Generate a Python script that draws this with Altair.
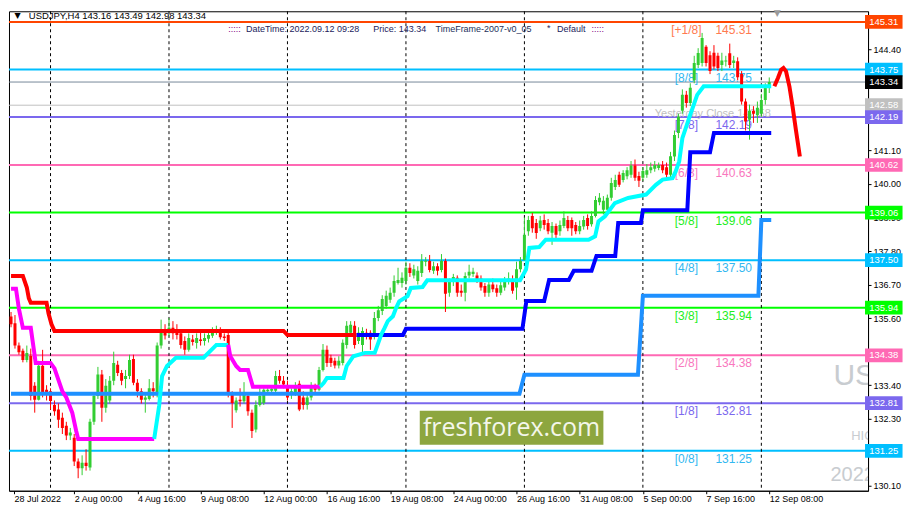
import altair as alt
import pandas as pd

# ---------------- candle data (H4 bars, index 0 = 28 Jul 2022 08:00) ----------------
BAR = list(range(193))
OPEN = [135.65, 135.43, 134.70, 134.53, 134.23, 134.36, 133.38, 132.92, 134.04, 133.25,
        133.20, 132.75, 132.60, 132.33, 132.07, 131.75, 131.68, 130.90, 130.68, 130.86,
        130.70, 132.20, 133.05, 133.75, 132.66, 132.90, 133.55, 134.07, 133.80, 133.60,
        133.70, 134.26, 133.48, 133.20, 132.92, 132.95, 133.30, 133.08, 134.70, 135.20,
        135.10, 135.28, 135.18, 135.10, 134.85, 134.56, 134.90, 134.78, 134.90, 134.85,
        134.92, 135.02, 135.15, 135.22, 135.00, 135.05, 133.15, 132.58, 132.92, 132.87,
        133.05, 132.50, 131.95, 132.75, 132.82, 133.20, 133.22, 133.22, 133.70, 133.55,
        133.40, 133.10, 133.15, 133.45, 133.00, 132.75, 133.00, 133.30, 133.25, 133.90,
        134.56, 134.30, 134.20, 134.05, 134.13, 134.72, 135.12, 135.35, 134.85, 134.72,
        135.12, 135.12, 135.05, 135.60, 135.83, 136.00, 136.20, 136.43, 136.75, 136.75,
        136.82, 137.25, 137.00, 136.82, 137.08, 137.45, 137.47, 137.15, 137.30, 137.18,
        137.47, 136.43, 136.80, 136.92, 136.50, 136.43, 137.00, 137.05, 137.00, 136.90,
        136.65, 136.43, 136.70, 136.58, 136.43, 136.60, 136.80, 136.88, 136.60, 137.20,
        137.50, 138.45, 138.95, 138.72, 138.55, 138.82, 138.72, 138.40, 138.62, 138.45,
        138.62, 138.82, 138.82, 138.65, 138.45, 138.60, 138.88, 138.68, 138.95, 139.40,
        139.15, 139.15, 139.55, 139.90, 140.30, 140.13, 140.25, 140.30, 140.60, 140.26,
        140.20, 140.30, 140.45, 140.50, 140.52, 140.62, 140.55, 140.30, 140.90, 141.67,
        142.40, 142.92, 142.65, 143.40, 143.90, 143.96, 144.50, 144.22, 144.30, 144.20,
        143.90, 144.02, 144.28, 143.96, 144.02, 143.60, 142.70, 142.10, 142.40, 142.25,
        142.30, 142.75, 143.16]
HIGH = [135.80, 135.70, 134.80, 134.60, 134.70, 134.60, 133.50, 134.20, 134.56, 133.40,
        133.30, 132.90, 132.80, 132.50, 132.20, 132.00, 131.80, 131.00, 131.10, 131.30,
        132.30, 133.10, 134.00, 133.90, 133.60, 133.70, 134.50, 134.20, 133.90, 133.90,
        134.40, 134.40, 133.60, 133.30, 133.10, 133.60, 133.50, 134.80, 135.55, 135.40,
        135.60, 135.50, 135.40, 135.20, 135.00, 135.10, 135.05, 135.10, 135.20, 135.10,
        135.15, 135.30, 135.35, 135.30, 135.10, 135.20, 133.20, 133.00, 133.30, 133.50,
        133.10, 132.60, 132.90, 133.30, 133.40, 133.40, 133.40, 133.87, 133.90, 133.70,
        133.55, 133.30, 133.50, 133.55, 133.20, 133.10, 133.50, 133.45, 134.00, 134.75,
        134.70, 134.40, 134.30, 134.35, 134.90, 135.50, 135.50, 135.50, 135.30, 135.30,
        135.25, 135.20, 135.80, 136.00, 136.35, 136.50, 136.60, 137.00, 137.25, 137.10,
        137.45, 137.40, 137.35, 137.30, 137.70, 137.60, 137.67, 137.45, 137.40, 137.70,
        137.55, 136.90, 137.05, 137.00, 136.70, 137.10, 137.35, 137.25, 137.10, 137.00,
        136.75, 136.80, 136.90, 136.70, 136.80, 136.95, 137.10, 137.00, 137.45, 137.60,
        138.90, 138.95, 139.05, 138.85, 138.95, 139.00, 138.85, 138.75, 138.70, 138.80,
        139.10, 138.95, 138.90, 138.75, 138.80, 138.95, 139.00, 139.10, 139.60, 139.70,
        139.60, 139.65, 140.20, 140.30, 140.40, 140.45, 140.55, 140.75, 140.80, 140.40,
        140.55, 140.65, 140.70, 140.75, 140.70, 140.75, 140.70, 141.05, 141.75, 142.30,
        143.10, 143.05, 143.30, 144.20, 144.45, 144.95, 144.55, 144.35, 144.55, 144.30,
        144.30, 144.20, 144.60, 144.20, 144.15, 143.70, 142.80, 142.60, 142.55, 142.70,
        142.95, 143.30, 143.49]
LOW = [135.30, 134.60, 134.40, 134.15, 134.15, 132.90, 132.50, 132.90, 133.00, 132.90,
       132.60, 132.40, 132.00, 131.80, 131.60, 131.60, 130.75, 130.35, 130.45, 130.60,
       130.60, 132.10, 132.95, 132.20, 132.50, 132.80, 133.40, 133.70, 133.40, 133.30,
       133.60, 133.40, 133.00, 132.80, 132.50, 132.90, 133.00, 133.00, 134.60, 134.90,
       135.00, 134.90, 134.90, 134.60, 134.40, 134.50, 134.70, 134.60, 134.70, 134.70,
       134.80, 134.95, 135.05, 134.90, 134.85, 133.00, 132.00, 132.50, 132.70, 132.80,
       132.40, 131.67, 131.85, 132.70, 132.75, 133.10, 133.15, 133.10, 133.45, 133.30,
       132.90, 132.95, 133.05, 132.55, 132.60, 132.60, 132.90, 133.10, 133.20, 133.85,
       134.00, 134.00, 133.95, 133.95, 134.05, 134.60, 135.00, 134.60, 134.75, 134.45,
       134.90, 134.56, 134.90, 135.50, 135.70, 135.90, 136.10, 136.30, 136.70, 136.60,
       136.70, 136.95, 136.90, 136.70, 136.95, 137.30, 137.10, 137.05, 137.00, 137.10,
       135.80, 136.30, 136.65, 136.30, 136.30, 136.15, 136.90, 136.95, 136.75, 136.50,
       136.30, 136.30, 136.45, 136.30, 136.35, 136.50, 136.70, 136.40, 136.20, 137.10,
       137.50, 138.30, 138.40, 138.20, 138.45, 138.50, 138.35, 138.00, 138.20, 138.30,
       138.55, 138.45, 138.30, 138.35, 138.35, 138.50, 138.50, 138.60, 138.90, 139.30,
       139.00, 139.05, 139.45, 139.80, 139.90, 140.05, 140.15, 140.20, 140.10, 139.90,
       140.10, 140.20, 140.35, 140.40, 140.45, 140.35, 140.20, 140.20, 140.75, 141.50,
       142.30, 142.50, 142.55, 143.30, 143.80, 143.85, 143.85, 143.60, 143.75, 143.70,
       143.70, 143.85, 143.80, 143.80, 143.40, 142.60, 141.75, 141.45, 142.00, 142.00,
       142.20, 142.60, 142.98]
CLOSE = [135.40, 134.70, 134.48, 134.23, 134.46, 133.05, 132.92, 134.04, 133.15, 133.15,
         132.88, 132.55, 132.27, 132.00, 131.75, 131.85, 130.90, 130.68, 130.86, 130.75,
         132.20, 133.05, 133.75, 132.66, 133.38, 133.55, 134.13, 133.80, 133.55, 133.70,
         134.23, 133.48, 133.20, 132.92, 133.00, 133.30, 133.20, 134.70, 135.12, 135.03,
         135.28, 135.10, 135.05, 134.72, 134.56, 134.95, 134.82, 134.95, 134.85, 134.95,
         135.05, 135.20, 135.22, 134.97, 134.95, 133.15, 132.82, 132.90, 132.87, 133.08,
         132.55, 131.90, 132.75, 133.05, 133.25, 133.25, 133.28, 133.70, 133.55, 133.42,
         133.00, 133.20, 133.38, 132.60, 132.75, 133.00, 133.35, 133.25, 133.90, 134.56,
         134.13, 134.13, 134.05, 134.20, 134.79, 135.35, 135.38, 134.72, 135.12, 135.18,
         135.00, 134.90, 135.60, 135.86, 136.23, 136.33, 136.43, 136.82, 136.85, 136.92,
         137.25, 137.08, 137.20, 137.15, 137.47, 137.48, 137.18, 137.30, 137.15, 137.47,
         136.40, 136.82, 136.95, 136.43, 136.43, 136.98, 137.12, 137.12, 136.85, 136.60,
         136.43, 136.70, 136.55, 136.43, 136.68, 136.82, 136.90, 136.50, 137.20, 137.47,
         138.33, 138.82, 138.55, 138.39, 138.80, 138.65, 138.45, 138.62, 138.33, 138.65,
         138.88, 138.55, 138.55, 138.45, 138.62, 138.82, 138.62, 138.95, 139.47, 139.55,
         139.45, 139.55, 140.03, 140.13, 139.97, 140.36, 140.45, 140.60, 140.20, 140.10,
         140.42, 140.45, 140.55, 140.62, 140.62, 140.45, 140.30, 140.91, 141.60, 142.20,
         142.92, 142.65, 143.15, 143.96, 144.29, 144.78, 143.96, 143.70, 143.85, 143.80,
         144.05, 144.05, 143.90, 144.05, 143.50, 142.70, 142.05, 142.40, 142.30, 142.50,
         142.75, 143.15, 143.34]

# ---------------- Murrey levels ----------------
LEVELS = [145.31, 143.75, 142.19, 140.62, 139.06, 137.50, 135.94, 134.38, 132.81, 131.25]
LEVEL_COLORS = ["#FF4500", "#00BFFF", "#7B68EE", "#FF69B4", "#00FF00",
                "#00BFFF", "#00FF00", "#FF69B4", "#7B68EE", "#00BFFF"]
LEVEL_NAMES = ["[+1/8]", "[8/8]", "[7/8]", "[6/8]", "[5/8]", "[4/8]", "[3/8]", "[2/8]", "[1/8]", "[0/8]"]
LEVEL_TEXT = ["145.31", "143.75", "142.19", "140.63", "139.06", "137.50", "135.94", "134.38", "132.81", "131.25"]
LEVEL_TEXT_COLORS = ["#FF7A50", "#33B8F0", "#7B68EE", "#F978BE", "#22EE22",
                     "#33B8F0", "#22EE22", "#F978BE", "#7B68EE", "#33B8F0"]

THIN_LEVELS = [143.34, 142.58]
THIN_COLORS = ["#778899", "#C0C0C0"]

# price tags on the right
TAG_PRICES = [145.31, 143.75, 143.34, 142.58, 142.19, 140.62, 139.06, 137.50, 135.94, 134.38, 132.81, 131.25]
TAG_COLORS = ["#FF4500", "#00BFFF", "#000000", "#C0C0C0", "#7B68EE", "#FF69B4",
              "#00FF00", "#00BFFF", "#00FF00", "#FF69B4", "#7B68EE", "#00BFFF"]

# ---------------- indicator lines (bar index, price) ----------------
RED_I = [0, 3, 4, 4.5, 5, 9, 9.5, 10.25, 11, 69, 70, 87.5]
RED_P = [136.98, 136.98, 136.60, 136.25, 136.10, 136.10, 135.75, 135.40, 135.18, 135.18, 135.05, 135.05]
BLUE_I = [87.5, 99.25, 100, 129.5, 130.5, 135, 136.25, 141.25, 142.5, 147, 148.25, 153, 153.75,
          159.5, 160, 171.25, 172, 177, 178, 192.5]
BLUE_P = [135.05, 135.05, 135.25, 135.25, 136.16, 136.16, 136.85, 136.85, 137.15, 137.15, 137.64, 137.64,
          138.72, 138.72, 139.14, 139.14, 141.04, 141.04, 141.67, 141.67]
DODGER_I = [0, 128.75, 130, 158.75, 160, 189.25, 190, 192.5]
DODGER_P = [133.12, 133.12, 133.74, 133.74, 136.33, 136.33, 138.82, 138.82]
MAG1_I = [0, 1.25, 2, 3, 5, 6.25, 10, 11, 13, 14, 15.5, 16.5, 17, 36.25]
MAG1_P = [136.56, 136.56, 135.90, 135.28, 135.28, 134.13, 134.13, 133.95, 133.20, 133.00, 132.50,
          131.90, 131.64, 131.64]
CYAN1_I = [36.25, 37.5, 38.25, 39.5, 41.75, 48.75, 52, 54.5, 55]
CYAN1_P = [131.64, 132.72, 133.70, 134.03, 134.30, 134.30, 134.72, 134.72, 134.72]
MAG2_I = [55, 55.5, 57, 58, 60, 60.75, 61.25, 78.3]
MAG2_P = [134.72, 134.36, 134.03, 133.90, 133.90, 133.57, 133.35, 133.35]
CYAN2_I = [78.3, 79.2, 80, 84.2, 85, 86.7, 89.6, 92.1, 93.75, 94.6, 95.4, 96.7, 97.5, 98.3, 100.4,
           101.25, 104.2, 105.4, 128.9, 130.4, 131.25, 133.75, 135.4, 146.25, 147.9, 148.75, 150.4,
           152.9, 156.25, 160.8, 163.3, 165, 167.5, 168.3, 169.2, 170, 171.7, 173.75, 175.4, 192.5]
CYAN2_P = [133.35, 133.48, 133.64, 133.64, 134.03, 134.35, 134.46, 134.46, 135.06, 135.28, 135.50,
           135.66, 135.93, 136.15, 136.32, 136.59, 136.62, 136.84, 136.84, 137.19, 137.90, 137.93,
           138.17, 138.17, 138.28, 138.77, 138.94, 139.37, 139.54, 139.65, 139.97, 140.14, 140.19,
           140.41, 140.74, 141.50, 142.16, 142.92, 143.20, 143.20]
PROJ_I = [193.3, 194.2, 195, 195.6, 196.25, 197.1, 197.9, 198.75, 199.75]
PROJ_P = [143.20, 143.47, 143.74, 143.80, 143.69, 143.20, 142.54, 141.77, 140.90]

# ---------------- axes ----------------
WEEK_SEPARATORS = [10, 40, 70, 100, 130, 160, 190]
TICK_POS = [0.75, 16, 32, 48, 64, 80, 96, 112, 128, 144, 160, 176, 192]
TICK_LABELS = ["28 Jul 2022", "2 Aug 00:00", "4 Aug 16:00", "9 Aug 08:00", "12 Aug 00:00",
               "16 Aug 16:00", "19 Aug 08:00", "24 Aug 00:00", "26 Aug 16:00", "31 Aug 08:00",
               "5 Sep 00:00", "7 Sep 16:00", "12 Sep 08:00"]
# visible price-scale labels (the others sit under the coloured price tags)
Y_TICKS = [130.10, 132.30, 133.40, 135.60, 136.70, 137.80, 138.90, 140.00, 141.10, 144.40]

FONT = "Liberation Sans"
XS = alt.Scale(domain=[0.75, 215.75], nice=False, zero=False)
YS = alt.Scale(domain=[129.94, 145.66], nice=False, zero=False)

label_expr = "[" + ",".join("'%s'" % t for t in TICK_LABELS) + "][round(datum.value/16)]"
x_axis = alt.Axis(values=TICK_POS, labelExpr=label_expr, labelAlign="left", labelFlush=False,
                  labelOverlap=False, tickSize=3, labelPadding=1, title=None, grid=False)
y_axis = alt.Axis(orient="right", values=Y_TICKS, format=".2f", labelOverlap=False,
                  tickSize=3, labelPadding=2, title=None, grid=False, labelFlush=False)

# ---------------- frames ----------------
candles = pd.DataFrame({"i": BAR, "o": OPEN, "h": HIGH, "l": LOW, "c": CLOSE})
levels = pd.DataFrame({"p": LEVELS, "col": LEVEL_COLORS})
thin = pd.DataFrame({"p": THIN_LEVELS, "col": THIN_COLORS})
seps = pd.DataFrame({"i": WEEK_SEPARATORS})

rows = []
k = 0
for name, xs, ps, col in [("red", RED_I, RED_P, "#FF0000"), ("blue", BLUE_I, BLUE_P, "#0000FF"),
                          ("dodger", DODGER_I, DODGER_P, "#1E90FF"), ("mag1", MAG1_I, MAG1_P, "#FF00FF"),
                          ("cyan1", CYAN1_I, CYAN1_P, "#00FFFF"), ("mag2", MAG2_I, MAG2_P, "#FF00FF"),
                          ("cyan2", CYAN2_I, CYAN2_P, "#00FFFF"), ("proj", PROJ_I, PROJ_P, "#FF0000")]:
    for a, b in zip(xs, ps):
        rows.append({"i": a, "p": b, "name": name, "col": col, "k": k})
        k += 1
ind = pd.DataFrame(rows)

lvl_names = pd.DataFrame({"i": [171] * 10, "p": [v - 0.262 for v in LEVELS],
                          "t": LEVEL_NAMES, "col": LEVEL_TEXT_COLORS})
lvl_vals = pd.DataFrame({"i": [183] * 10, "p": [v - 0.262 for v in LEVELS],
                         "t": LEVEL_TEXT, "col": LEVEL_TEXT_COLORS})

tags = pd.DataFrame({"p": TAG_PRICES, "col": TAG_COLORS,
                     "t": ["%.2f" % v for v in TAG_PRICES]})
tags["p0"] = tags["p"] - 0.225
tags["p1"] = tags["p"] + 0.225
tags["i0"] = 216.25
tags["i1"] = 225.75
tags["im"] = 221.0

X = lambda f="i": alt.X(f + ":Q", scale=XS)
Y = lambda f="p": alt.Y(f + ":Q", scale=YS)

layers = []

# level lines
layers.append(alt.Chart(levels).mark_rule(strokeWidth=2).encode(
    y=alt.Y("p:Q", scale=YS, axis=y_axis), color=alt.Color("col:N", scale=None)))
layers.append(alt.Chart(thin).mark_rule(strokeWidth=1).encode(
    y=Y(), color=alt.Color("col:N", scale=None)))
# week separators
layers.append(alt.Chart(seps).mark_rule(strokeWidth=1, color="black", strokeDash=[3, 3]).encode(
    x=alt.X("i:Q", scale=XS, axis=x_axis)))

# watermark box
wm = pd.DataFrame({"i0": [103.5], "i1": [150.0], "p0": [131.45], "p1": [132.56],
                   "im": [126.75], "pm": [132.0], "t": ["freshforex.com"]})
layers.append(alt.Chart(wm).mark_rect(color="#8DA63F").encode(
    x=X("i0"), x2="i1:Q", y=Y("p0"), y2="p1:Q"))
layers.append(alt.Chart(wm).mark_text(font="Open Sans", fontSize=25, color="#F4F6EA",
                                      baseline="middle", align="center").encode(
    x=X("im"), y=Y("pm"), text="t:N"))

# faint background texts (cut by the right edge of the plot, as in the terminal)
bg = pd.DataFrame({"i": [208.25, 212.75, 207.5], "p": [133.41, 131.61, 130.27],
                   "t": ["USD", "HIG", "2022."], "s": [30, 13, 20]})
for idx in range(len(bg)):
    layers.append(alt.Chart(bg.iloc[[idx]]).mark_text(
        font=FONT, fontSize=float(bg["s"].iloc[idx]), color="#C8CCD0", align="left",
        baseline="alphabetic", clip=True).encode(x=X(), y=Y(), text="t:N"))

# yesterday close text
yc = pd.DataFrame({"i": [163.0], "p": [142.30], "t": ["Yesterday Close 142.58"]})
layers.append(alt.Chart(yc).mark_text(font=FONT, fontSize=11, color="#C0C0C0", align="left",
                                      baseline="middle").encode(x=X(), y=Y(), text="t:N"))

# level labels
layers.append(alt.Chart(lvl_names).mark_text(font=FONT, fontSize=12, align="center", baseline="middle").encode(
    x=X(), y=Y(), text="t:N", color=alt.Color("col:N", scale=None)))
layers.append(alt.Chart(lvl_vals).mark_text(font=FONT, fontSize=12, align="center", baseline="middle").encode(
    x=X(), y=Y(), text="t:N", color=alt.Color("col:N", scale=None)))

# candles
cbase = alt.Chart(candles).transform_calculate(
    col="datum.c >= datum.o ? '#32CD32' : '#FF0000'",
    top="max(datum.o, datum.c)",
    bot="max(datum.o, datum.c) - min(datum.o, datum.c) < 0.035 ? max(datum.o, datum.c) - 0.035 : min(datum.o, datum.c)",
)
layers.append(cbase.mark_rule(strokeWidth=1, clip=True).encode(
    x=X(), y=Y("l"), y2="h:Q", color=alt.Color("col:N", scale=None)))
layers.append(cbase.mark_bar(size=3, clip=True).encode(
    x=X(), y=Y("top"), y2="bot:Q", color=alt.Color("col:N", scale=None)))

# indicator lines
layers.append(alt.Chart(ind).mark_line(strokeWidth=4, clip=True, strokeJoin="miter").encode(
    x=X(), y=Y(), detail="name:N", order="k:Q", color=alt.Color("col:N", scale=None)))

# header texts
hdr = pd.DataFrame({
    "i": [0.9, 4.5, 55.0, 59.5, 91.75, 107.5, 135.75, 138.25, 147.0],
    "p": [145.50, 145.50, 145.07, 145.07, 145.07, 145.07, 145.10, 145.07, 145.07],
    "t": ["\u25BC", "USDJPY,H4  143.16 143.49 142.98 143.34", ":::::", "DateTime: 2022.09.12 09:28",
          "Price: 143.34", "TimeFrame-2007-v0_05", "*", "Default", ":::::"],
    "col": ["#000000", "#000000", "#800080", "#1C1C5C", "#1C1C5C", "#23305A", "#1C1C5C", "#1C1C5C", "#800080"],
    "s": [8, 9.5, 9, 9, 9, 9, 9, 9, 9],
})
for idx in range(len(hdr)):
    layers.append(alt.Chart(hdr.iloc[[idx]]).mark_text(
        font=FONT if idx != 0 else "DejaVu Sans", fontSize=float(hdr["s"].iloc[idx]), align="left",
        baseline="middle", color=hdr["col"].iloc[idx]).encode(x=X(), y=Y(), text="t:N"))

# shift marker
sm = pd.DataFrame({"i": [194.0], "p": [145.60], "t": ["\u25BC"]})
layers.append(alt.Chart(sm).mark_text(font="DejaVu Sans", fontSize=9, color="#9A9A9A",
                                      align="center", baseline="middle").encode(x=X(), y=Y(), text="t:N"))

# price tags on the right
layers.append(alt.Chart(tags).mark_rect().encode(
    x=X("i0"), x2="i1:Q", y=Y("p0"), y2="p1:Q", color=alt.Color("col:N", scale=None)))
layers.append(alt.Chart(tags).mark_text(font=FONT, fontSize=9.5, color="white", align="center",
                                        baseline="middle").encode(x=X("im"), y=Y(), text="t:N"))

chart = alt.layer(*layers).properties(
    width=860, height=480, padding=0, background="white"
).configure_view(stroke="black", strokeWidth=1).configure_axis(
    labelFont=FONT, labelFontSize=9, labelColor="black", domainColor="black",
    tickColor="black", grid=False
)

chart.save("out.html", embed_options={"renderer": "svg", "actions": False})
